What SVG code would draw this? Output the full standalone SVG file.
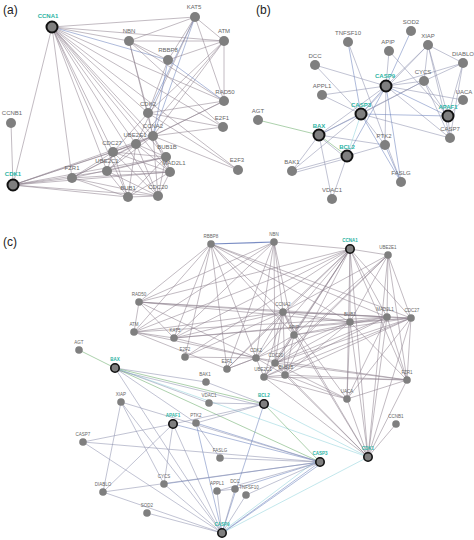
<svg xmlns="http://www.w3.org/2000/svg" width="474" height="540" viewBox="0 0 474 540">
<style>
text{font-family:"Liberation Sans",Arial,sans-serif;text-anchor:middle}
.pl{font-size:12px;fill:#222;text-anchor:start}
.nd circle{fill:#7f7f7f}
.hb circle{stroke:#111;stroke-width:2}
.nd text{font-size:6px;fill:#666}
.sm text{font-size:4.5px}
.hb text{fill:#2bb3a3;font-weight:bold}
.shb circle{stroke:#111;stroke-width:1.6}
#connectors line{stroke:#8e818d;stroke-width:.6;stroke-opacity:.9}
#connectors .ap line{stroke:#8c90ad}
#connectors line.b{stroke:#6a80bc}
#connectors line.t{stroke:#8fd2dc}
#connectors line.g{stroke:#66aa66}
</style>
<rect width="474" height="540" fill="#fff"/>
<text class="pl" x="3" y="14">(a)</text>
<text class="pl" x="256" y="14">(b)</text>
<text class="pl" x="3" y="246">(c)</text>
<g id="connectors">
<g class="cc">
<line x1="52" y1="27" x2="195" y2="17"/><line x1="52" y1="27" x2="129" y2="41"/><line x1="52" y1="27" x2="224" y2="41"/><line class="b" x1="52" y1="27" x2="168" y2="60"/><line x1="52" y1="27" x2="224" y2="101"/><line x1="52" y1="27" x2="148" y2="113"/><line x1="52" y1="27" x2="153" y2="136"/><line x1="52" y1="27" x2="136" y2="144"/><line x1="52" y1="27" x2="113" y2="152"/><line x1="52" y1="27" x2="107" y2="171"/><line x1="52" y1="27" x2="166" y2="157"/><line x1="52" y1="27" x2="72" y2="178"/><line x1="52" y1="27" x2="170" y2="172"/><line x1="52" y1="27" x2="13" y2="185"/><line x1="52" y1="27" x2="128" y2="197"/><line x1="52" y1="27" x2="158" y2="196"/><line x1="52" y1="27" x2="238" y2="170"/><line x1="52" y1="27" x2="223" y2="127"/>
<line x1="195" y1="17" x2="129" y2="41"/><line x1="195" y1="17" x2="224" y2="41"/><line x1="195" y1="17" x2="168" y2="60"/><line x1="195" y1="17" x2="224" y2="101"/><line class="b" x1="195" y1="17" x2="148" y2="113"/><line class="b" x1="195" y1="17" x2="153" y2="136"/><line x1="195" y1="17" x2="136" y2="144"/>
<line x1="129" y1="41" x2="224" y2="41"/><line x1="129" y1="41" x2="168" y2="60"/><line x1="129" y1="41" x2="224" y2="101"/><line x1="129" y1="41" x2="148" y2="113"/><line x1="129" y1="41" x2="153" y2="136"/><line x1="129" y1="41" x2="223" y2="127"/>
<line x1="224" y1="41" x2="168" y2="60"/><line x1="224" y1="41" x2="224" y2="101"/><line x1="224" y1="41" x2="148" y2="113"/><line x1="224" y1="41" x2="153" y2="136"/><line x1="224" y1="41" x2="136" y2="144"/>
<line class="b" x1="168" y1="60" x2="224" y2="101"/><line x1="168" y1="60" x2="148" y2="113"/><line class="b" x1="168" y1="60" x2="153" y2="136"/>
<line x1="224" y1="101" x2="148" y2="113"/><line x1="224" y1="101" x2="153" y2="136"/><line x1="224" y1="101" x2="136" y2="144"/>
<line x1="11" y1="123" x2="13" y2="185"/>
<line x1="148" y1="113" x2="153" y2="136"/><line x1="148" y1="113" x2="223" y2="127"/><line x1="148" y1="113" x2="238" y2="170"/><line x1="148" y1="113" x2="113" y2="152"/>
<line x1="153" y1="136" x2="223" y2="127"/><line x1="153" y1="136" x2="238" y2="170"/><line x1="153" y1="136" x2="113" y2="152"/><line x1="153" y1="136" x2="166" y2="157"/><line x1="153" y1="136" x2="170" y2="172"/><line x1="153" y1="136" x2="158" y2="196"/><line x1="153" y1="136" x2="107" y2="171"/><line x1="153" y1="136" x2="13" y2="185"/><line x1="153" y1="136" x2="72" y2="178"/>
<line x1="136" y1="144" x2="113" y2="152"/><line x1="136" y1="144" x2="166" y2="157"/><line x1="136" y1="144" x2="107" y2="171"/><line x1="136" y1="144" x2="170" y2="172"/><line x1="136" y1="144" x2="158" y2="196"/><line x1="136" y1="144" x2="128" y2="197"/><line x1="136" y1="144" x2="72" y2="178"/><line x1="136" y1="144" x2="13" y2="185"/>
<line x1="113" y1="152" x2="166" y2="157"/><line x1="113" y1="152" x2="170" y2="172"/><line x1="113" y1="152" x2="128" y2="197"/><line x1="113" y1="152" x2="158" y2="196"/><line x1="113" y1="152" x2="107" y2="171"/><line x1="113" y1="152" x2="72" y2="178"/><line x1="113" y1="152" x2="13" y2="185"/>
<line x1="107" y1="171" x2="128" y2="197"/><line x1="107" y1="171" x2="158" y2="196"/><line x1="107" y1="171" x2="170" y2="172"/><line x1="107" y1="171" x2="166" y2="157"/><line x1="107" y1="171" x2="13" y2="185"/>
<line x1="166" y1="157" x2="170" y2="172"/><line x1="166" y1="157" x2="128" y2="197"/><line x1="166" y1="157" x2="158" y2="196"/><line x1="166" y1="157" x2="72" y2="178"/><line x1="166" y1="157" x2="13" y2="185"/>
<line x1="170" y1="172" x2="128" y2="197"/><line x1="170" y1="172" x2="158" y2="196"/><line x1="170" y1="172" x2="72" y2="178"/><line x1="170" y1="172" x2="13" y2="185"/>
<line x1="128" y1="197" x2="158" y2="196"/><line x1="128" y1="197" x2="13" y2="185"/><line x1="128" y1="197" x2="72" y2="178"/>
<line x1="158" y1="196" x2="13" y2="185"/><line x1="158" y1="196" x2="72" y2="178"/><line x1="72" y1="178" x2="13" y2="185"/>
</g>
<g class="ap">
<line class="g" x1="258" y1="120" x2="319" y2="135"/>
<line class="g" x1="319" y1="135" x2="347" y2="156"/><line x1="320" y1="137" x2="346" y2="158"/><line class="b" x1="319" y1="135" x2="361" y2="114"/><line x1="319" y1="135" x2="386" y2="86"/><line x1="319" y1="135" x2="385" y2="145"/><line x1="319" y1="135" x2="292" y2="171"/><line x1="319" y1="135" x2="332" y2="199"/><line x1="319" y1="135" x2="424" y2="81"/>
<line class="t" x1="347" y1="156" x2="361" y2="114"/><line class="b" x1="347" y1="156" x2="386" y2="86"/><line x1="347" y1="156" x2="292" y2="171"/><line x1="348" y1="158" x2="293" y2="173"/><line x1="347" y1="156" x2="332" y2="199"/><line x1="347" y1="156" x2="385" y2="145"/>
<line class="b" x1="386" y1="86" x2="411" y2="31"/><line x1="386" y1="86" x2="389" y2="51"/><line x1="386" y1="86" x2="428" y2="45"/><line x1="386" y1="86" x2="463" y2="63"/><line x1="386" y1="86" x2="424" y2="81"/><line class="b" x1="386" y1="86" x2="448" y2="116"/><line class="b" x1="386" y1="86" x2="361" y2="114"/><line x1="386" y1="86" x2="450" y2="138"/><line x1="386" y1="86" x2="463" y2="100"/><line x1="386" y1="86" x2="315" y2="65"/><line x1="386" y1="86" x2="322" y2="95"/><line x1="386" y1="86" x2="385" y2="145"/><line class="b" x1="386" y1="86" x2="401" y2="182"/>
<line class="b" x1="361" y1="114" x2="348" y2="42"/><line x1="361" y1="114" x2="315" y2="65"/><line x1="361" y1="114" x2="322" y2="95"/><line x1="361" y1="114" x2="428" y2="45"/><line x1="361" y1="114" x2="424" y2="81"/><line class="b" x1="361" y1="114" x2="448" y2="116"/><line x1="361" y1="114" x2="450" y2="138"/><line class="b" x1="361" y1="114" x2="401" y2="182"/><line x1="361" y1="114" x2="385" y2="145"/><line x1="361" y1="114" x2="292" y2="171"/>
<line x1="424" y1="81" x2="448" y2="116"/><line x1="424" y1="81" x2="428" y2="45"/><line x1="424" y1="81" x2="463" y2="63"/><line x1="424" y1="81" x2="450" y2="138"/>
<line x1="428" y1="45" x2="463" y2="63"/><line x1="428" y1="45" x2="448" y2="116"/><line x1="428" y1="45" x2="450" y2="138"/>
<line x1="463" y1="63" x2="448" y2="116"/><line x1="463" y1="63" x2="450" y2="138"/><line x1="389" y1="51" x2="448" y2="116"/><line x1="463" y1="100" x2="448" y2="116"/><line x1="448" y1="116" x2="450" y2="138"/>
<line x1="348" y1="42" x2="401" y2="182"/><line class="b" x1="385" y1="145" x2="401" y2="182"/>
</g>
<g class="cc">
<line class="b" x1="211" y1="244" x2="274" y2="242" style="stroke-width:1.2"/>
<line x1="211" y1="244" x2="139" y2="302"/><line x1="211" y1="244" x2="134" y2="332"/><line x1="211" y1="244" x2="174" y2="338"/><line x1="211" y1="244" x2="283" y2="312"/><line x1="211" y1="244" x2="227" y2="369"/><line x1="211" y1="244" x2="256" y2="358"/><line x1="211" y1="244" x2="350" y2="322"/><line x1="211" y1="244" x2="387" y2="317"/><line x1="211" y1="244" x2="411" y2="318"/><line x1="211" y1="244" x2="294" y2="335"/><line x1="211" y1="244" x2="185" y2="357"/>
<line x1="274" y1="242" x2="350" y2="249"/><line x1="274" y1="242" x2="139" y2="302"/><line x1="274" y1="242" x2="134" y2="332"/><line x1="274" y1="242" x2="174" y2="338"/><line x1="274" y1="242" x2="283" y2="312"/><line x1="274" y1="242" x2="256" y2="358"/><line x1="274" y1="242" x2="227" y2="369"/><line x1="274" y1="242" x2="294" y2="335"/><line x1="274" y1="242" x2="275" y2="363"/>
<line x1="350" y1="249" x2="388" y2="255"/><line x1="350" y1="249" x2="283" y2="312"/><line x1="350" y1="249" x2="350" y2="322"/><line x1="350" y1="249" x2="387" y2="317"/><line x1="350" y1="249" x2="411" y2="318"/><line x1="350" y1="249" x2="256" y2="358"/><line x1="350" y1="249" x2="275" y2="363"/><line x1="350" y1="249" x2="264" y2="377"/><line x1="350" y1="249" x2="285" y2="375"/><line x1="350" y1="249" x2="368" y2="457"/><line x1="350" y1="249" x2="139" y2="302"/><line x1="350" y1="249" x2="134" y2="332"/><line x1="350" y1="249" x2="174" y2="338"/><line x1="350" y1="249" x2="185" y2="357"/><line x1="350" y1="249" x2="227" y2="369"/><line x1="350" y1="249" x2="407" y2="380"/><line x1="350" y1="249" x2="347" y2="399"/><line x1="350" y1="249" x2="294" y2="335"/>
<line x1="388" y1="255" x2="387" y2="317"/><line x1="388" y1="255" x2="411" y2="318"/><line x1="388" y1="255" x2="350" y2="322"/><line x1="388" y1="255" x2="283" y2="312"/><line x1="388" y1="255" x2="275" y2="363"/><line x1="388" y1="255" x2="264" y2="377"/><line x1="388" y1="255" x2="407" y2="380"/><line x1="388" y1="255" x2="368" y2="457"/><line x1="388" y1="255" x2="294" y2="335"/>
<line x1="139" y1="302" x2="134" y2="332"/><line x1="139" y1="302" x2="174" y2="338"/><line x1="134" y1="332" x2="174" y2="338"/><line x1="139" y1="302" x2="283" y2="312"/><line x1="139" y1="302" x2="256" y2="358"/><line x1="139" y1="302" x2="350" y2="322"/><line x1="139" y1="302" x2="387" y2="317"/><line x1="134" y1="332" x2="283" y2="312"/><line x1="134" y1="332" x2="256" y2="358"/><line x1="134" y1="332" x2="227" y2="369"/><line x1="134" y1="332" x2="387" y2="317"/><line x1="174" y1="338" x2="283" y2="312"/><line x1="174" y1="338" x2="256" y2="358"/><line x1="174" y1="338" x2="350" y2="322"/><line x1="174" y1="338" x2="411" y2="318"/>
<line x1="185" y1="357" x2="256" y2="358"/><line x1="185" y1="357" x2="283" y2="312"/><line x1="227" y1="369" x2="283" y2="312"/><line x1="227" y1="369" x2="256" y2="358"/><line x1="227" y1="369" x2="350" y2="322"/>
<line x1="283" y1="312" x2="294" y2="335"/><line x1="283" y1="312" x2="256" y2="358"/><line x1="283" y1="312" x2="275" y2="363"/><line x1="283" y1="312" x2="350" y2="322"/><line x1="283" y1="312" x2="387" y2="317"/><line x1="283" y1="312" x2="411" y2="318"/><line x1="283" y1="312" x2="264" y2="377"/><line x1="283" y1="312" x2="285" y2="375"/><line x1="283" y1="312" x2="368" y2="457"/><line x1="283" y1="312" x2="347" y2="399"/>
<line x1="294" y1="335" x2="256" y2="358"/><line x1="294" y1="335" x2="275" y2="363"/><line x1="294" y1="335" x2="285" y2="375"/><line x1="294" y1="335" x2="387" y2="317"/><line x1="294" y1="335" x2="411" y2="318"/><line x1="294" y1="335" x2="368" y2="457"/>
<line x1="350" y1="322" x2="387" y2="317"/><line x1="350" y1="322" x2="411" y2="318"/><line x1="350" y1="322" x2="275" y2="363"/><line x1="350" y1="322" x2="285" y2="375"/><line x1="350" y1="322" x2="347" y2="399"/><line x1="350" y1="322" x2="368" y2="457"/><line x1="350" y1="322" x2="407" y2="380"/>
<line x1="387" y1="317" x2="411" y2="318"/><line x1="387" y1="317" x2="275" y2="363"/><line x1="387" y1="317" x2="264" y2="377"/><line x1="387" y1="317" x2="407" y2="380"/><line x1="387" y1="317" x2="347" y2="399"/><line x1="387" y1="317" x2="368" y2="457"/>
<line x1="411" y1="318" x2="275" y2="363"/><line x1="411" y1="318" x2="264" y2="377"/><line x1="411" y1="318" x2="285" y2="375"/><line x1="411" y1="318" x2="407" y2="380"/><line x1="411" y1="318" x2="368" y2="457"/><line x1="411" y1="318" x2="347" y2="399"/>
<line x1="256" y1="358" x2="275" y2="363"/><line x1="256" y1="358" x2="264" y2="377"/><line x1="256" y1="358" x2="285" y2="375"/><line x1="256" y1="358" x2="407" y2="380"/>
<line x1="275" y1="363" x2="264" y2="377"/><line x1="275" y1="363" x2="285" y2="375"/><line x1="275" y1="363" x2="407" y2="380"/><line x1="275" y1="363" x2="347" y2="399"/><line x1="275" y1="363" x2="368" y2="457"/>
<line x1="264" y1="377" x2="285" y2="375"/><line x1="264" y1="377" x2="407" y2="380"/><line x1="264" y1="377" x2="347" y2="399"/><line x1="264" y1="377" x2="368" y2="457"/>
<line x1="285" y1="375" x2="407" y2="380"/><line x1="285" y1="375" x2="347" y2="399"/><line x1="285" y1="375" x2="368" y2="457"/>
<line x1="407" y1="380" x2="347" y2="399"/><line x1="407" y1="380" x2="368" y2="457"/><line x1="347" y1="399" x2="368" y2="457"/><line x1="396" y1="424" x2="368" y2="457"/>
</g>
<g class="ap">
<line class="g" x1="79" y1="350" x2="115" y2="368"/>
<line x1="115" y1="368" x2="206" y2="382"/><line class="g" x1="115" y1="368" x2="264" y2="404"/><line x1="116" y1="370" x2="263" y2="406"/><line class="g" x1="115" y1="368" x2="320" y2="462"/><line class="t" x1="115" y1="368" x2="368" y2="457"/><line x1="115" y1="368" x2="209" y2="403"/><line x1="115" y1="368" x2="222" y2="533"/><line x1="115" y1="368" x2="196" y2="423"/>
<line class="g" x1="264" y1="404" x2="320" y2="462"/><line class="t" x1="264" y1="404" x2="368" y2="457"/><line class="b" x1="264" y1="404" x2="222" y2="533"/><line x1="264" y1="404" x2="209" y2="403"/><line x1="264" y1="404" x2="206" y2="382"/><line x1="264" y1="404" x2="196" y2="423"/><line x1="264" y1="404" x2="173" y2="424"/>
<line x1="222" y1="533" x2="173" y2="424"/><line x1="222" y1="533" x2="121" y2="402"/><line x1="222" y1="533" x2="164" y2="484"/><line x1="222" y1="533" x2="103" y2="492"/><line x1="222" y1="533" x2="147" y2="513"/><line x1="222" y1="533" x2="217" y2="491"/><line x1="222" y1="533" x2="235" y2="489"/><line x1="222" y1="533" x2="246" y2="495"/><line class="b" x1="222" y1="533" x2="196" y2="423"/><line x1="222" y1="533" x2="83" y2="442"/><line class="b" x1="222" y1="533" x2="320" y2="462"/><line class="b" x1="224" y1="532" x2="319" y2="465"/><line class="t" x1="223" y1="531" x2="317" y2="460"/><line class="t" x1="222" y1="533" x2="368" y2="457"/>
<line class="b" x1="320" y1="462" x2="173" y2="424"/><line class="b" x1="320" y1="462" x2="196" y2="423"/><line x1="320" y1="462" x2="220" y2="458"/><line class="b" x1="320" y1="462" x2="164" y2="484"/><line x1="320" y1="462" x2="121" y2="402"/><line x1="320" y1="462" x2="83" y2="442"/><line class="b" x1="320" y1="462" x2="235" y2="489"/><line x1="320" y1="462" x2="217" y2="491"/><line x1="320" y1="462" x2="246" y2="495"/><line x1="320" y1="462" x2="103" y2="492"/>
<line x1="173" y1="424" x2="83" y2="442"/><line x1="173" y1="424" x2="164" y2="484"/><line x1="173" y1="424" x2="103" y2="492"/>
<line x1="121" y1="402" x2="103" y2="492"/><line x1="121" y1="402" x2="164" y2="484"/><line x1="196" y1="423" x2="220" y2="458"/><line x1="217" y1="491" x2="235" y2="489"/>
</g>
</g>
<g id="a-CCNA1" class="nd hb"><circle cx="52" cy="27" r="5.5"/><text x="48" y="18">CCNA1</text></g>
<g id="a-KAT5" class="nd"><circle cx="195" cy="17" r="5"/><text x="194" y="9">KAT5</text></g>
<g id="a-NBN" class="nd"><circle cx="129" cy="41" r="5"/><text x="129" y="33">NBN</text></g>
<g id="a-ATM" class="nd"><circle cx="224" cy="41" r="5"/><text x="224" y="33">ATM</text></g>
<g id="a-RBBP8" class="nd"><circle cx="168" cy="60" r="5"/><text x="168" y="52">RBBP8</text></g>
<g id="a-RAD50" class="nd"><circle cx="224" cy="101" r="5"/><text x="225" y="94">RAD50</text></g>
<g id="a-CCNB1" class="nd"><circle cx="11" cy="123" r="5"/><text x="12" y="115">CCNB1</text></g>
<g id="a-CDK2" class="nd"><circle cx="148" cy="113" r="5"/><text x="148" y="106">CDK2</text></g>
<g id="a-E2F1" class="nd"><circle cx="223" cy="127" r="5"/><text x="222" y="120">E2F1</text></g>
<g id="a-CCNA2" class="nd"><circle cx="153" cy="136" r="5"/><text x="153" y="128">CCNA2</text></g>
<g id="a-UBE2E1" class="nd"><circle cx="136" cy="144" r="5"/><text x="135" y="137">UBE2E1</text></g>
<g id="a-CDC27" class="nd"><circle cx="113" cy="152" r="5"/><text x="112" y="145">CDC27</text></g>
<g id="a-UBE2C1" class="nd"><circle cx="107" cy="171" r="5"/><text x="107" y="163">UBE2C1</text></g>
<g id="a-BUB1B" class="nd"><circle cx="166" cy="157" r="5"/><text x="167" y="149">BUB1B</text></g>
<g id="a-FZR1" class="nd"><circle cx="72" cy="178" r="5"/><text x="72" y="170">FZR1</text></g>
<g id="a-MAD2L1" class="nd"><circle cx="170" cy="172" r="5"/><text x="174" y="165">MAD2L1</text></g>
<g id="a-CDK1" class="nd hb"><circle cx="13" cy="185" r="5.5"/><text x="13" y="176">CDK1</text></g>
<g id="a-BUB1" class="nd"><circle cx="128" cy="197" r="5"/><text x="128" y="190">BUB1</text></g>
<g id="a-CDC20" class="nd"><circle cx="158" cy="196" r="5"/><text x="158" y="189">CDC20</text></g>
<g id="a-E2F3" class="nd"><circle cx="238" cy="170" r="5"/><text x="237" y="162">E2F3</text></g>
<g id="b-SOD2" class="nd"><circle cx="411" cy="31" r="5"/><text x="411" y="24">SOD2</text></g>
<g id="b-TNFSF10" class="nd"><circle cx="348" cy="42" r="5"/><text x="348" y="35">TNFSF10</text></g>
<g id="b-APIP" class="nd"><circle cx="389" cy="51" r="5"/><text x="388" y="44">APIP</text></g>
<g id="b-XIAP" class="nd"><circle cx="428" cy="45" r="5"/><text x="428" y="38">XIAP</text></g>
<g id="b-DIABLO" class="nd"><circle cx="463" cy="63" r="5"/><text x="463" y="56">DIABLO</text></g>
<g id="b-DCC" class="nd"><circle cx="315" cy="65" r="5"/><text x="315" y="58">DCC</text></g>
<g id="b-CYCS" class="nd"><circle cx="424" cy="81" r="5"/><text x="423" y="74">CYCS</text></g>
<g id="b-CASP9" class="nd hb"><circle cx="386" cy="86" r="5.5"/><text x="385" y="78">CASP9</text></g>
<g id="b-APPL1" class="nd"><circle cx="322" cy="95" r="5"/><text x="322" y="88">APPL1</text></g>
<g id="b-UACA" class="nd"><circle cx="463" cy="100" r="5"/><text x="464" y="94">UACA</text></g>
<g id="b-CASP3" class="nd hb"><circle cx="361" cy="114" r="5.5"/><text x="361" y="107">CASP3</text></g>
<g id="b-APAF1" class="nd hb"><circle cx="448" cy="116" r="5.5"/><text x="448" y="109">APAF1</text></g>
<g id="b-AGT" class="nd"><circle cx="258" cy="120" r="5"/><text x="258" y="113">AGT</text></g>
<g id="b-BAX" class="nd hb"><circle cx="319" cy="135" r="5.5"/><text x="319" y="128">BAX</text></g>
<g id="b-CASP7" class="nd"><circle cx="450" cy="138" r="5"/><text x="450" y="131">CASP7</text></g>
<g id="b-PTK2" class="nd"><circle cx="385" cy="145" r="5"/><text x="384" y="138">PTK2</text></g>
<g id="b-BCL2" class="nd hb"><circle cx="347" cy="156" r="5.5"/><text x="347" y="149">BCL2</text></g>
<g id="b-BAK1" class="nd"><circle cx="292" cy="171" r="5"/><text x="292" y="164">BAK1</text></g>
<g id="b-FASLG" class="nd"><circle cx="401" cy="182" r="5"/><text x="401" y="175">FASLG</text></g>
<g id="b-VDAC1" class="nd"><circle cx="332" cy="199" r="5"/><text x="332" y="192">VDAC1</text></g>
<g id="c-RBBP8" class="nd sm"><circle cx="211" cy="244" r="3.8"/><text x="211" y="238">RBBP8</text></g>
<g id="c-NBN" class="nd sm"><circle cx="274" cy="242" r="3.8"/><text x="274" y="236">NBN</text></g>
<g id="c-CCNA1" class="nd sm hb shb"><circle cx="350" cy="249" r="4.2"/><text x="350" y="242">CCNA1</text></g>
<g id="c-UBE2E1" class="nd sm"><circle cx="388" cy="255" r="3.8"/><text x="388" y="249">UBE2E1</text></g>
<g id="c-RAD50" class="nd sm"><circle cx="139" cy="302" r="3.8"/><text x="139" y="296">RAD50</text></g>
<g id="c-ATM" class="nd sm"><circle cx="134" cy="332" r="3.8"/><text x="134" y="326">ATM</text></g>
<g id="c-KAT5" class="nd sm"><circle cx="174" cy="338" r="3.8"/><text x="175" y="332">KAT5</text></g>
<g id="c-AGT" class="nd sm"><circle cx="79" cy="350" r="3.8"/><text x="79" y="344">AGT</text></g>
<g id="c-E2F2" class="nd sm"><circle cx="185" cy="357" r="3.8"/><text x="185" y="351">E2F2</text></g>
<g id="c-E2F1" class="nd sm"><circle cx="227" cy="369" r="3.8"/><text x="227" y="363">E2F1</text></g>
<g id="c-BAX" class="nd sm hb shb"><circle cx="115" cy="368" r="4.2"/><text x="115" y="361">BAX</text></g>
<g id="c-BAK1" class="nd sm"><circle cx="206" cy="382" r="3.8"/><text x="205" y="376">BAK1</text></g>
<g id="c-CCNA2" class="nd sm"><circle cx="283" cy="312" r="3.8"/><text x="283" y="306">CCNA2</text></g>
<g id="c-APIP" class="nd sm"><circle cx="294" cy="335" r="3.8"/><text x="294" y="329">APIP</text></g>
<g id="c-BUB1" class="nd sm"><circle cx="350" cy="322" r="3.8"/><text x="350" y="316">BUB1</text></g>
<g id="c-MAD2L1" class="nd sm"><circle cx="387" cy="317" r="3.8"/><text x="385" y="311">MAD2L1</text></g>
<g id="c-CDC27" class="nd sm"><circle cx="411" cy="318" r="3.8"/><text x="412" y="312">CDC27</text></g>
<g id="c-CDK2" class="nd sm"><circle cx="256" cy="358" r="3.8"/><text x="256" y="352">CDK2</text></g>
<g id="c-CDC20" class="nd sm"><circle cx="275" cy="363" r="3.8"/><text x="276" y="357">CDC20</text></g>
<g id="c-UBE2C1" class="nd sm"><circle cx="264" cy="377" r="3.8"/><text x="263" y="371">UBE2C1</text></g>
<g id="c-BUB1B" class="nd sm"><circle cx="285" cy="375" r="3.8"/><text x="286" y="369">BUB1B</text></g>
<g id="c-FZR1" class="nd sm"><circle cx="407" cy="380" r="3.8"/><text x="407" y="374">FZR1</text></g>
<g id="c-UACA" class="nd sm"><circle cx="347" cy="399" r="3.8"/><text x="347" y="393">UACA</text></g>
<g id="c-CCNB1" class="nd sm"><circle cx="396" cy="424" r="3.8"/><text x="396" y="418">CCNB1</text></g>
<g id="c-CDK1" class="nd sm hb shb"><circle cx="368" cy="457" r="4.2"/><text x="368" y="450">CDK1</text></g>
<g id="c-BCL2" class="nd sm hb shb"><circle cx="264" cy="404" r="4.2"/><text x="264" y="397">BCL2</text></g>
<g id="c-CASP3" class="nd sm hb shb"><circle cx="320" cy="462" r="4.2"/><text x="320" y="455">CASP3</text></g>
<g id="c-TNFSF10" class="nd sm"><circle cx="246" cy="495" r="3.8"/><text x="249" y="489">TNFSF10</text></g>
<g id="c-XIAP" class="nd sm"><circle cx="121" cy="402" r="3.8"/><text x="121" y="396">XIAP</text></g>
<g id="c-VDAC1" class="nd sm"><circle cx="209" cy="403" r="3.8"/><text x="209" y="397">VDAC1</text></g>
<g id="c-APAF1" class="nd sm hb shb"><circle cx="173" cy="424" r="4.2"/><text x="173" y="417">APAF1</text></g>
<g id="c-PTK2" class="nd sm"><circle cx="196" cy="423" r="3.8"/><text x="196" y="417">PTK2</text></g>
<g id="c-CASP7" class="nd sm"><circle cx="83" cy="442" r="3.8"/><text x="83" y="436">CASP7</text></g>
<g id="c-FASLG" class="nd sm"><circle cx="220" cy="458" r="3.8"/><text x="220" y="452">FASLG</text></g>
<g id="c-CYCS" class="nd sm"><circle cx="164" cy="484" r="3.8"/><text x="164" y="478">CYCS</text></g>
<g id="c-DIABLO" class="nd sm"><circle cx="103" cy="492" r="3.8"/><text x="103" y="486">DIABLO</text></g>
<g id="c-APPL1" class="nd sm"><circle cx="217" cy="491" r="3.8"/><text x="217" y="485">APPL1</text></g>
<g id="c-DCC" class="nd sm"><circle cx="235" cy="489" r="3.8"/><text x="235" y="483">DCC</text></g>
<g id="c-SOD2" class="nd sm"><circle cx="147" cy="513" r="3.8"/><text x="147" y="507">SOD2</text></g>
<g id="c-CASP9" class="nd sm hb shb"><circle cx="222" cy="533" r="4.2"/><text x="222" y="526">CASP9</text></g>
</svg>
